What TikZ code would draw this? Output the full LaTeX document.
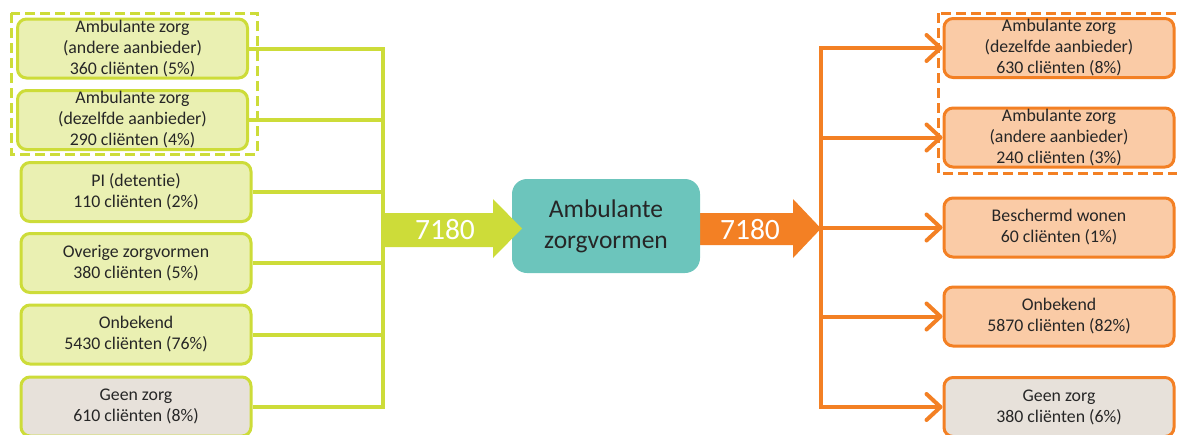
\documentclass[tikz,border=0pt]{standalone}
\usepackage{fontspec}
\setmainfont{Carlito}[Ligatures=NoCommon]
\usetikzlibrary{arrows.meta}
\definecolor{lgreen}{RGB}{205,220,57}
\definecolor{lgfill}{RGB}{234,240,178}
\definecolor{ggrey}{RGB}{231,225,218}
\definecolor{orng}{RGB}{243,128,36}
\definecolor{ofill}{RGB}{250,203,166}
\definecolor{tealbox}{RGB}{108,197,188}
\definecolor{txt}{RGB}{38,38,38}
\begin{document}
\begin{tikzpicture}[x=1pt,y=-1pt,
  box/.style={line width=3pt, rounded corners=9pt, align=center, text=txt,
    font=\fontsize{17.8}{21}\selectfont, inner sep=0pt,
    minimum width=230pt, minimum height=59pt},
  gbox/.style={box, draw=lgreen, fill=lgfill},
  obox/.style={box, draw=orng, fill=ofill},
  gline/.style={draw=lgreen, line width=4pt},
  oline/.style={draw=orng, line width=4pt},
  oarrow/.style={oline, -{Straight Barb[length=14pt 0,width=26pt 0,round]}},
  bignum/.style={text=white, font=\fontsize{29.5}{32}\selectfont},
]
\useasboundingbox (0,0) rectangle (1177,434);
\clip (0,0) rectangle (1177,434);

% left boxes
\node[gbox] (L1) at (132.5,48.5) {Ambulante zorg\\(andere aanbieder)\\360 cliënten (5\%)};
\node[gbox] (L2) at (132.5,120) {Ambulante zorg\\(dezelfde aanbieder)\\290 cliënten (4\%)};
\node[gbox] (L3) at (136,192) {PI (detentie)\\110 cliënten (2\%)};
\node[gbox] (L4) at (136,263) {Overige zorgvormen\\380 cliënten (5\%)};
\node[gbox] (L5) at (136,334.5) {Onbekend\\5430 cliënten (76\%)};
\node[gbox, fill=ggrey] (L6) at (136,406.5) {Geen zorg\\610 cliënten (8\%)};
\draw[draw=lgreen, line width=3pt, dash pattern=on 10pt off 5pt] (11,13) rectangle (257,154);

% right boxes
\node[obox] (R1) at (1059,48) {Ambulante zorg\\(dezelfde aanbieder)\\630 cliënten (8\%)};
\node[obox] (R2) at (1059,137.5) {Ambulante zorg\\(andere aanbieder)\\240 cliënten (3\%)};
\node[obox] (R3) at (1059,227.5) {Beschermd wonen\\60 cliënten (1\%)};
\node[obox] (R4) at (1059,316.5) {Onbekend\\5870 cliënten (82\%)};
\node[obox, fill=ggrey] (R5) at (1059,407) {Geen zorg\\380 cliënten (6\%)};
\draw[draw=orng, line width=3pt, dash pattern=on 10pt off 5pt] (938,13) rectangle (1182,173);

% buses
\coordinate (lbus) at (383,0);
\coordinate (rbus) at (821,0);
\draw[gline, line cap=rect] (lbus |- L1.east) -- (lbus |- L6.east);
\foreach \n in {L1,L2,L3,L4,L5,L6} \draw[gline] (\n.east) -- (lbus |- \n.east);
\draw[oline, line cap=rect] (rbus |- R1.west) -- (rbus |- R5.west);
\foreach \n in {R1,R2,R3,R4,R5} \draw[oarrow] (rbus |- \n.west) -- (\n.west);

% orange arrow (under box)
\fill[orng] (690,213) -- (793,213) -- (793,199) -- (821,228.5) -- (793,258) -- (793,245) -- (690,245) -- cycle;

% center
\node[fill=tealbox, rounded corners=15pt, minimum width=188pt, minimum height=94pt,
  align=center, text=txt, font=\fontsize{25.5}{31}\selectfont] (C) at (606,226) {Ambulante\\zorgvormen};

% green arrow (over box)
\fill[lgreen] (381,213) -- (493,213) -- (493,199) -- (522,228.5) -- (493,258) -- (493,247) -- (381,247) -- cycle;

\node[bignum] (gnum) at (445,229.5) {7180};
\node[bignum] (onum) at (750,229.5) {7180};
\end{tikzpicture}
\end{document}
